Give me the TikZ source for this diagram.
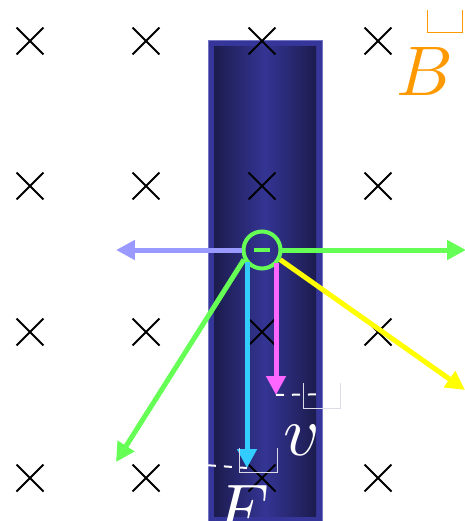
\documentclass[tikz,border=0pt]{standalone}
\usepackage{graphicx}
\usepackage{xcolor}
\usepackage{tikz}
\usetikzlibrary{arrows.meta, shapes.misc}

\definecolor{rodblue}{HTML}{35359A}
\definecolor{rodedge}{HTML}{7474C4}
\definecolor{roddark}{HTML}{1C1C4E}
\definecolor{rodmid}{HTML}{343494}
\definecolor{lavender}{HTML}{9999FF}
\definecolor{elgreen}{HTML}{66FF55}
\definecolor{fcyan}{HTML}{33CCFF}
\definecolor{vmagenta}{HTML}{FF66FF}
\definecolor{fyellow}{HTML}{FFFF00}
\definecolor{borange}{HTML}{FF9900}
\definecolor{boxgrey}{HTML}{DCDCE8}

\newcommand{\bigsym}[1]{\scalebox{4}{$#1$}}

\begin{document}
\begin{tikzpicture}[
  x=0.02cm, y=-0.02cm,
  >={Triangle[length=0.38cm, width=0.38cm]},
  fieldx/.style={cross out, draw=black, line width=0.04cm, inner sep=0pt, minimum size=0.5cm},
  vec/.style={->, line width=0.1cm},
  proj/.style={draw=white, line width=0.04cm, dash pattern=on 0.16cm off 0.16cm},
  glyphbox/.style={line width=0.02cm},
  sym/.style={inner sep=0pt, anchor=base}]
\useasboundingbox (0,0) rectangle (465,521);
% conducting rod
\fill[rodblue, draw=rodedge, line width=0.02cm] (208,40) rectangle (322,523);
\shade[left color=roddark, right color=roddark, middle color=rodmid, shading=axis] (214,46) rectangle (316,516);
% field into the page
\foreach \i/\xx in {1/30, 2/146, 3/262, 4/378}
  \foreach \j/\yy in {1/41, 2/186, 3/332, 4/478}
    \node[fieldx] (x\i-\j) at (\xx,\yy) {};
% tips of the vectors
\coordinate (tipL) at (116,250);
\coordinate (tipR) at (466,250);
\coordinate (tipY) at (465,390);
\coordinate (tipF) at (247,468);
\coordinate (tipV) at (276,395);
\coordinate (tipG) at (116,462);
\coordinate (endV) at (342,394);
\coordinate (endF) at (176,463);
% electron
\node[circle, draw=elgreen, line width=0.08cm, minimum size=0.74cm, inner sep=0pt] (e) at (262,250) {};
\draw[elgreen, line width=0.08cm] ([xshift=-0.16cm]e.center) -- ([xshift=0.16cm]e.center);
% vectors
\draw[vec, lavender] (e.west) -- (tipL);
\draw[vec, elgreen] (e.east) -- (tipR);
\draw[vec, fyellow] (e.-28) -- (tipY);
\draw[vec, fcyan] (tipF |- e.216) -- (tipF);
\draw[vec, vmagenta] (tipV |- e.-41) -- (tipV);
\draw[vec, elgreen] (e.208) -- (tipG);
% projections
\draw[proj] (tipV) -- (endV);
\draw[proj] (endF) -- (tipF);
% labels
\node[sym, text=borange] (lblB) at (425,95) {\bigsym{B}};
\draw[glyphbox, borange] (427,10) |- (462,32) -- (462,10);
\node[sym, text=white] (lblv) at (302,455) {\bigsym{v}};
\draw[glyphbox, boxgrey] (303,383) |- (340,408) -- (340,383);
\node[sym, text=white] (lblF) at (242,533) {\bigsym{F}};
\draw[glyphbox, boxgrey] (239,448) |- (277,472) -- (277,448);
\end{tikzpicture}
\end{document}
